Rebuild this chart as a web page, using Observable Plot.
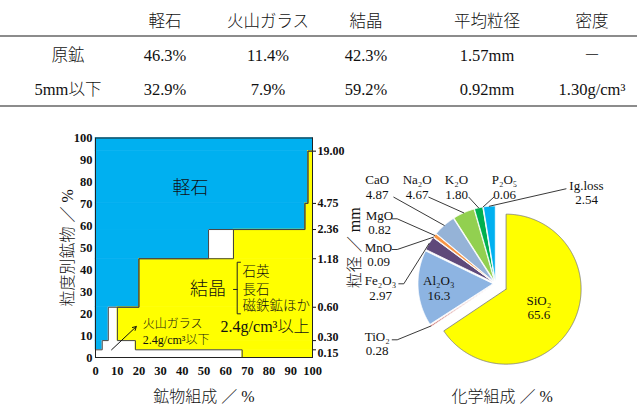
<!DOCTYPE html>
<html><head><meta charset="utf-8">
<script src="https://cdn.jsdelivr.net/npm/d3@7"></script>
<script src="https://cdn.jsdelivr.net/npm/@observablehq/plot@0.6"></script>
<style>
body{margin:0;background:#fff;width:637px;height:408px;overflow:hidden;position:relative;font-family:'Liberation Serif','Noto Sans CJK JP',serif;color:#111;}
.cell{position:absolute;transform:translate(-50%,-50%);white-space:nowrap;font-size:16.5px;line-height:1;font-weight:300;}
.rule{position:absolute;left:0;width:637px;height:2px;background:#8c8c8c;}
#left{position:absolute;left:0;top:125px;}
#right{position:absolute;left:330px;top:125px;}
</style></head><body>
<div id="table"></div>
<div id="left"></div>
<div id="right"></div>
<script>
// ---------- data ----------
const tableHeaders = ["軽石", "火山ガラス", "結晶", "平均粒径", "密度"];
const tableRowNames = ["原鉱", "5mm以下"];
const tableValues = [
  ["46.3%", "11.4%", "42.3%", "1.57mm", "－"],
  ["32.9%", "7.9%", "59.2%", "0.92mm", "1.30g/cm³"]
];

// mineral composition by size band (cumulative % upper bound of each band)
const bandTop = [3.5, 7.7, 22.9, 45, 58.3, 70.2, 94, 100];
const sieveSizes = ["0.15", "0.30", "0.60", "1.18", "2.36", "4.75", "19.00"];
const pumicePct = [0, 3.1, 5.9, 20, 52.1, 96.5, 97.9, 100];
const glassPct = [67.6, 15.3, 4.2, 0, 11.5, 0, 0, 0];

// chemical composition
const oxides = ["SiO₂", "TiO₂", "Al₂O₃", "Fe₂O₃", "MnO", "MgO", "CaO", "Na₂O", "K₂O", "P₂O₅", "Ig.loss"];
const oxideValues = [65.6, 0.28, 16.3, 2.97, 0.09, 0.82, 4.87, 4.67, 1.80, 0.06, 2.54];
const oxideLabels = ["65.6", "0.28", "16.3", "2.97", "0.09", "0.82", "4.87", "4.67", "1.80", "0.06", "2.54"];
const oxideColors = ["#FFFF00", "#C0504D", "#8DB4E2", "#5F497A", "#4BACC6", "#F79646", "#95B3D7", "#92D050", "#00B050", "#1F497D", "#00B0F0"];

// ---------- layout ----------
const FONT = "'Liberation Serif','Noto Sans CJK JP',serif";
const BLUE = "#00B0F0", YELLOW = "#FFFF00";
const colX = [68, 165, 268, 366, 487, 592];
const rowY = [22, 56, 90];
const ruleY = [36, 106];

// ---------- table ----------
const tbl = document.getElementById("table");
function cell(text, x, y) {
  const d = document.createElement("div");
  d.className = "cell"; d.textContent = text;
  d.style.left = x + "px"; d.style.top = y + "px";
  tbl.appendChild(d);
}
tableHeaders.forEach((h, j) => cell(h, colX[j + 1], rowY[0]));
tableRowNames.forEach((r, i) => {
  cell(r, colX[0], rowY[i + 1]);
  tableValues[i].forEach((v, j) => cell(v, colX[j + 1], rowY[i + 1]));
});
ruleY.forEach(y => { const r = document.createElement("div"); r.className = "rule"; r.style.top = (y - 1) + "px"; tbl.appendChild(r); });

// ---------- left chart ----------
const bands = bandTop.map((top, i) => ({y1: i ? bandTop[i - 1] : 0, y2: top, p: pumicePct[i], g: glassPct[i]}));
const edgePumice = bands.flatMap(b => [{x: b.p, y: b.y1}, {x: b.p, y: b.y2}]);
const edgeGlass = bands.flatMap(b => [{x: b.p + b.g, y: b.y1}, {x: b.p + b.g, y: b.y2}]);
const sieveTicks = bandTop.slice(0, 7).map((t, i) => ({y: t, label: sieveSizes[i]}));

const bracket = [{x: 66.8, y: 43.4}, {x: 65.3, y: 43.4}, {x: 65.3, y: 19.9}, {x: 66.8, y: 19.9}];
const bracketTick = [{x: 65.3, y: 31}, {x: 63.6, y: 31}];
const sieveText = {x: () => 100, y: "y", text: "label", dx: 5, textAnchor: "start", fontWeight: "bold", fontSize: 12};

const left = Plot.plot({
  width: 370, height: 283, marginLeft: 95, marginRight: 58, marginTop: 12.5, marginBottom: 51,
  x: {domain: [0, 100], label: null},
  y: {domain: [0, 100], label: null},
  style: {fontFamily: FONT, fontSize: "12px", color: "#111", background: "transparent"},
  marks: [
    Plot.rect(bands.filter(b => b.p > 0), {x1: () => 0, x2: "p", y1: "y1", y2: "y2", fill: BLUE, stroke: BLUE, strokeWidth: 0.5}),
    Plot.rect(bands.filter(b => b.g > 0), {x1: "p", x2: b => b.p + b.g, y1: "y1", y2: "y2", fill: "white"}),
    Plot.rect(bands.filter(b => b.p + b.g < 100), {x1: b => b.p + b.g, x2: () => 100, y1: "y1", y2: "y2", fill: YELLOW, stroke: YELLOW, strokeWidth: 0.5}),
    Plot.line(edgePumice, {x: "x", y: "y", stroke: "#444", strokeWidth: 1}),
    Plot.line(edgeGlass, {x: "x", y: "y", stroke: "#444", strokeWidth: 1}),
    Plot.frame({stroke: "#222", strokeWidth: 1}),
    Plot.axisX({ticks: d3.range(0, 101, 10), tickSize: 0, tickPadding: 9, fontWeight: "bold", fontSize: 12.5, label: null}),
    Plot.axisY({ticks: d3.range(0, 101, 10), tickSize: 0, tickPadding: 3, fontWeight: "bold", fontSize: 12.5, label: null}),
    Plot.axisY({ticks: bandTop.slice(0, 7), anchor: "right", tickSize: 3, tickFormat: () => "", label: null}),
    Plot.text(sieveTicks.slice(0, 1), {...sieveText, dy: 3}),
    Plot.text(sieveTicks.slice(1, 2), {...sieveText, dy: -3}),
    Plot.text(sieveTicks.slice(2), sieveText),
    Plot.text(["軽石"], {x: () => 43.8, y: () => 76.9, text: d => d, fontSize: 18, fontWeight: 300}),
    Plot.text(["結晶"], {x: () => 51.8, y: () => 31, text: d => d, fontSize: 18, fontWeight: 300}),
    Plot.text(["石英", "長石", "磁鉄鉱ほか"], {x: () => 67.7, y: (d, i) => [38.9, 31, 23.4][i], text: d => d, textAnchor: "start", fontSize: 13.5, fontWeight: 300}),
    Plot.text(["2.4g/cm³以上"], {x: () => 78.1, y: () => 13.8, text: d => d, fontSize: 16, fontWeight: 300}),
    Plot.text(["火山ガラス", "2.4g/cm³以下"], {x: () => 21.8, y: (d, i) => [15.4, 7.7][i], text: d => d, textAnchor: "start", fontSize: 12, fontWeight: 300}),
    Plot.line(bracket, {x: "x", y: "y", stroke: "#222", strokeWidth: 1}),
    Plot.line(bracketTick, {x: "x", y: "y", stroke: "#222", strokeWidth: 1}),
    Plot.arrow([0], {x1: () => 7.4, y1: () => 3.5, x2: () => 18.8, y2: () => 14.1, stroke: "#111", strokeWidth: 1, headLength: 6}),
    Plot.text(["粒度別鉱物 ／ %"], {frameAnchor: "left", dx: -28, rotate: -90, text: d => d, fontSize: 16, fontWeight: 300, textAnchor: "middle", lineAnchor: "middle"}),
    Plot.text(["鉱物組成 ／ %"], {frameAnchor: "bottom", dy: 39, text: d => d, fontSize: 16, fontWeight: 300, textAnchor: "middle", lineAnchor: "middle"}),
    Plot.text(["粒径 ／ mm"], {frameAnchor: "right", dx: 42, rotate: -90, text: d => d, fontSize: 16, fontWeight: 300, textAnchor: "middle", lineAnchor: "middle"})
  ]
});
document.getElementById("left").appendChild(left);

// ---------- pie ----------
const PW = 307, PH = 283;
const C = {x: 165, y: 158}, R = 75;
const arcs = d3.pie().sort(null).value(d => d)(oxideValues);
function pt(a, r, e, mid) {
  return {x: C.x + e * Math.sin(mid) + r * Math.sin(a), y: C.y - e * Math.cos(mid) - r * Math.cos(a)};
}
const slices = arcs.map((arc, i) => {
  const e = i === 0 ? 12 : 2.5;
  const mid = (arc.startAngle + arc.endAngle) / 2;
  const pts = [pt(0, 0, e, mid)];
  const n = Math.max(2, Math.ceil((arc.endAngle - arc.startAngle) / (Math.PI / 360)));
  for (let k = 0; k <= n; k++) pts.push(pt(arc.startAngle + (arc.endAngle - arc.startAngle) * k / n, R, e, mid));
  pts.push(pts[0]);
  return {i, pts, mid, e};
});

// label block centres (pie-panel pixels) and leader start points
const labelPos = {
  "SiO₂": [208.3, 181.7], "TiO₂": [46.7, 217.7], "Al₂O₃": [108.3, 162.5], "Fe₂O₃": [50, 162.5],
  "MnO": [48, 129.2], "MgO": [49, 96.7], "CaO": [46.7, 61.3], "Na₂O": [86.7, 61.3],
  "K₂O": [126, 61.3], "P₂O₅": [174, 61.3], "Ig.loss": [256, 67.2]
};
const leaderStart = {
  "TiO₂": [61.7, 214.3], "Fe₂O₃": [68.3, 158.3], "MnO": [61.7, 124], "MgO": [61.7, 93.3],
  "CaO": [63.3, 71.7], "Na₂O": [98.3, 71.7], "K₂O": [138.3, 71.7], "P₂O₅": [163.3, 71.7], "Ig.loss": [235.5, 63.3]
};
const leaders = [];
slices.forEach(s => {
  const name = oxides[s.i];
  const st = leaderStart[name];
  if (!st) return;
  const end = pt(s.mid, R, s.e, s.mid);
  leaders.push({name, x: st[0], y: st[1]});
  if (["TiO₂", "Fe₂O₃", "MnO", "MgO"].includes(name)) leaders.push({name, x: st[0] + 5, y: st[1]});
  leaders.push({name, x: end.x, y: end.y});
});
const labelData = oxides.map((o, i) => ({text: o + "\n" + oxideLabels[i], x: labelPos[o][0], y: labelPos[o][1]}));

const pie = Plot.plot({
  width: PW, height: PH, margin: 0,
  x: {domain: [0, PW], range: [0, PW], axis: null},
  y: {domain: [0, PH], range: [0, PH], axis: null},
  style: {fontFamily: FONT, fontSize: "13px", color: "#111", background: "transparent"},
  marks: [
    ...slices.map(s => Plot.line(s.pts, {x: "x", y: "y", fill: oxideColors[s.i],
      stroke: s.i === 0 ? "#777" : "white", strokeWidth: 0.8})),
    Plot.line(leaders, {x: "x", y: "y", z: "name", stroke: "#222", strokeWidth: 0.9}),
    Plot.text(labelData, {x: "x", y: "y", text: "text", fontSize: 13, lineHeight: 1.1, textAnchor: "middle", lineAnchor: "middle"}),
    Plot.text(["化学組成 ／ %"], {x: () => 171.7, y: () => 271.7, text: d => d, fontSize: 16, fontWeight: 300})
  ]
});
document.getElementById("right").appendChild(pie);
</script>
</body></html>
